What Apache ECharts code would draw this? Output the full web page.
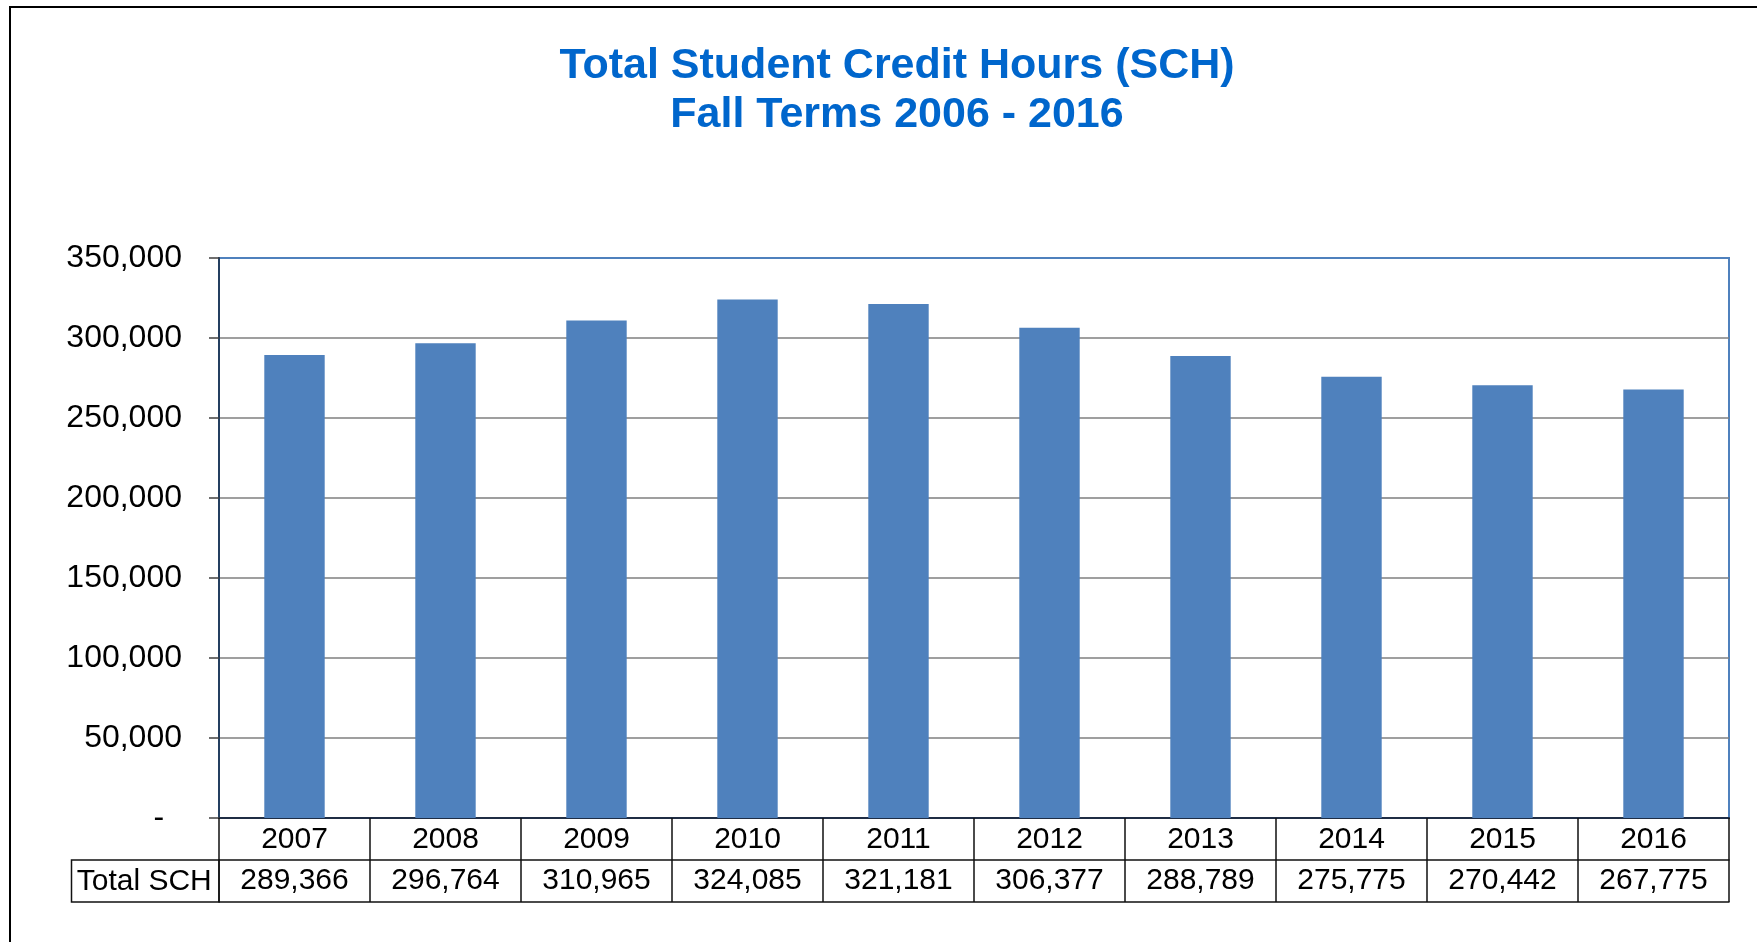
<!DOCTYPE html>
<html>
<head>
<meta charset="utf-8">
<title>Total Student Credit Hours (SCH)</title>
<script src="https://cdn.jsdelivr.net/npm/echarts@6/dist/echarts.min.js"></script>
<style>
  html, body { margin: 0; padding: 0; background: #ffffff; }
  #chart { width: 1757px; height: 942px; }
</style>
</head>
<body>
<div id="chart"></div>
<script>
// Fall term totals
const years = ['2007', '2008', '2009', '2010', '2011', '2012', '2013', '2014', '2015', '2016'];
const totalSCH = [289366, 296764, 310965, 324085, 321181, 306377, 288789, 275775, 270442, 267775];
const yTicks = { min: 0, max: 350000, interval: 50000 };
const rowHeader = 'Total SCH';

const FONT = '"Liberation Sans", Arial, sans-serif';
const BAR_BLUE = '#4F81BD';

// Plot area geometry (pixels)
const GRID = { left: 219, top: 258, right: 28, bottom: 124 };
const ROW_H = 42;
const W = 1757, H = 942;
const plotBottom = H - GRID.bottom;
const TABLE_FONT = 30;

const fmt = v => v.toLocaleString('en-US');
const valueLabels = totalSCH.map(fmt);

const chart = echarts.init(document.getElementById('chart'), null, { renderer: 'canvas' });

chart.setOption({
  backgroundColor: '#ffffff',
  animation: false,
  title: {
    text: 'Total Student Credit Hours (SCH)\nFall Terms 2006 - 2016',
    left: 897,
    top: 42,
    textAlign: 'center',
    padding: 0,
    textStyle: {
      color: '#0066CC',
      fontFamily: FONT,
      fontWeight: 'bold',
      fontSize: 43,
      lineHeight: 49
    }
  },
  grid: {
    left: GRID.left, top: GRID.top, right: GRID.right, bottom: GRID.bottom,
    show: true,
    borderColor: BAR_BLUE,
    borderWidth: 2,
    backgroundColor: 'transparent'
  },
  xAxis: [
    {
      // year row of the data table
      type: 'category',
      data: years,
      position: 'bottom',
      axisLine: { show: true, lineStyle: { color: '#1f2d44', width: 2 } },
      axisTick: { show: true, interval: 0, length: ROW_H * 2, lineStyle: { color: '#111111', width: 1.5 } },
      axisLabel: { interval: 0, margin: 7, fontSize: TABLE_FONT, fontFamily: FONT, color: '#000000' },
      splitLine: { show: false }
    },
    {
      // value row of the data table
      type: 'category',
      data: valueLabels,
      position: 'bottom',
      offset: ROW_H,
      axisLine: { show: true, lineStyle: { color: '#111111', width: 1.5 } },
      axisTick: { show: false },
      axisLabel: { interval: 0, margin: 6, fontSize: TABLE_FONT, fontFamily: FONT, color: '#000000' },
      splitLine: { show: false }
    },
    {
      // bottom edge of the data table
      type: 'category',
      data: years,
      position: 'bottom',
      offset: ROW_H * 2,
      axisLine: { show: true, lineStyle: { color: '#111111', width: 1.5 } },
      axisTick: { show: false },
      axisLabel: { show: false },
      splitLine: { show: false }
    }
  ],
  yAxis: {
    type: 'value',
    min: yTicks.min,
    max: yTicks.max,
    interval: yTicks.interval,
    axisLine: { show: true, lineStyle: { color: '#243F60', width: 2 } },
    axisTick: { show: true, length: 10, lineStyle: { color: '#404040', width: 1.5 } },
    axisLabel: {
      margin: 37,
      fontSize: 32,
      fontFamily: FONT,
      color: '#000000',
      formatter: v => (v === 0 ? '-  ' : fmt(v))
    },
    splitLine: {
      show: true,
      showMaxLine: false,
      showMinLine: false,
      lineStyle: { color: '#7f7f7f', width: 1.5 }
    }
  },
  series: [
    {
      name: rowHeader,
      type: 'bar',
      xAxisIndex: 0,
      data: totalSCH,
      barWidth: '40%',
      itemStyle: { color: BAR_BLUE },
      silent: true
    }
  ],
  graphic: [
    {
      // outer chart frame
      type: 'rect',
      shape: { x: 10, y: 7, width: W + 100, height: H + 100 },
      style: { fill: 'none', stroke: '#000000', lineWidth: 2 },
      z: 0
    },
    {
      // row header cell of the data table
      type: 'rect',
      shape: { x: 71.5, y: plotBottom + ROW_H, width: GRID.left - 71.5, height: ROW_H },
      style: { fill: 'none', stroke: '#111111', lineWidth: 1.5 },
      z: 10
    },
    {
      type: 'text',
      x: (71.5 + GRID.left) / 2 - 1,
      y: plotBottom + ROW_H * 1.5 + 1,
      style: {
        text: rowHeader,
        fontSize: TABLE_FONT,
        fontFamily: FONT,
        fill: '#000000',
        align: 'center',
        verticalAlign: 'middle'
      },
      z: 10
    }
  ]
});
</script>
</body>
</html>
